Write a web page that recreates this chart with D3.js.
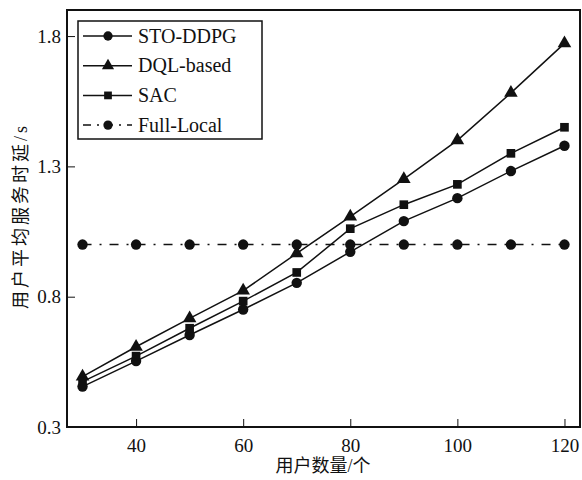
<!DOCTYPE html>
<html><head><meta charset="utf-8">
<script src="https://cdn.jsdelivr.net/npm/d3@7"></script>
<style>body{margin:0;background:#fff;}svg{display:block;}</style>
</head><body><svg id="c" width="582" height="480"></svg>
<script>
const users = [30,40,50,60,70,80,90,100,110,120];
const stoDdpg = [0.455,0.553,0.653,0.751,0.853,0.972,1.090,1.178,1.282,1.379];
const dqlBased = [0.493,0.608,0.717,0.823,0.966,1.107,1.251,1.400,1.582,1.772];
const sac = [0.474,0.572,0.679,0.783,0.893,1.061,1.153,1.231,1.350,1.450];
const fullLocal = [1.0,1.0,1.0,1.0,1.0,1.0,1.0,1.0,1.0,1.0];
const xTicks = [40,60,80,100,120];
const yTicks = [0.3,0.8,1.3,1.8];
const seriesNames = ["STO-DDPG","DQL-based","SAC","Full-Local"];

const svg = d3.select("#c");
const m = {l:67, r:580, t:10, b:427};
const x = d3.scaleLinear().domain([27.1,122.9]).range([m.l,m.r]);
const y = d3.scaleLinear().domain([0.3,1.9]).range([m.b,m.t]);
const serif = "'Liberation Serif','Times New Roman',serif";
const cjk = "'Liberation Serif','Noto Sans CJK SC',serif";

const series = [
  {name:seriesNames[0], vals:stoDdpg, sym:d3.symbolCircle, size:85, dash:null},
  {name:seriesNames[1], vals:dqlBased, sym:d3.symbolTriangle, size:80, dash:null},
  {name:seriesNames[2], vals:sac, sym:d3.symbolSquare, size:75, dash:null},
  {name:seriesNames[3], vals:fullLocal, sym:d3.symbolCircle, size:85, dash:"9,8,2,8"}
];

// axes
const xAxis = d3.axisBottom(x).tickValues(xTicks).tickSizeInner(-8).tickSizeOuter(0).tickPadding(12);
const gx = svg.append("g").attr("transform",`translate(0,${m.b})`).call(xAxis);
gx.select(".domain").remove();
gx.selectAll("text").attr("font-family",serif).attr("font-size",19).attr("fill","#111");
gx.selectAll("line").attr("stroke","#111").attr("stroke-width",1);

const yAxis = d3.axisLeft(y).tickValues(yTicks).tickFormat(d3.format(".1f")).tickSizeInner(-8).tickSizeOuter(0).tickPadding(6);
const gy = svg.append("g").attr("transform",`translate(${m.l},0)`).call(yAxis);
gy.select(".domain").remove();
gy.selectAll("text").attr("font-family",serif).attr("font-size",19).attr("fill","#111");
gy.selectAll("line").attr("stroke","#111").attr("stroke-width",1);

// frame
svg.append("rect").attr("x",m.l).attr("y",m.t).attr("width",m.r-m.l).attr("height",m.b-m.t)
  .attr("fill","none").attr("stroke","#111").attr("stroke-width",2);

const line = d3.line().x((d,i)=>x(users[i])).y(d=>y(d));
series.forEach(s=>{
  svg.append("path").datum(s.vals).attr("d",line).attr("fill","none")
    .attr("stroke","#111").attr("stroke-width",1.5).attr("stroke-dasharray",s.dash);
  svg.append("g").selectAll("path").data(s.vals).join("path")
    .attr("d",d3.symbol().type(s.sym).size(s.size))
    .attr("transform",(d,i)=>`translate(${x(users[i])},${y(d)})`)
    .attr("fill","#111");
});

// legend
const lg = svg.append("g");
lg.append("rect").attr("x",78).attr("y",21).attr("width",184).attr("height",118)
  .attr("fill","#fff").attr("stroke","#111").attr("stroke-width",1.5);
series.forEach((s,i)=>{
  const yy = 36 + i*29.7;
  lg.append("line").attr("x1",83).attr("x2",132).attr("y1",yy).attr("y2",yy)
    .attr("stroke","#111").attr("stroke-width",1.5).attr("stroke-dasharray",s.dash ? "8,6,2,6" : null);
  lg.append("path").attr("d",d3.symbol().type(s.sym).size(s.size*0.8)).attr("transform",`translate(108,${yy})`).attr("fill","#111");
  lg.append("text").attr("x",138).attr("y",yy+6.5).text(s.name)
    .attr("font-family",serif).attr("font-size",20).attr("fill","#111");
});

// axis titles
svg.append("text").attr("x",323).attr("y",472).attr("text-anchor","middle")
  .attr("font-family",cjk).attr("font-size",18).attr("fill","#111").text("用户数量/个");
svg.append("text").attr("transform","translate(27,216) rotate(-90)").attr("text-anchor","middle")
  .attr("font-family",cjk).attr("font-size",18).attr("letter-spacing",3).attr("fill","#111").text("用户平均服务时延/s");
</script></body></html>
